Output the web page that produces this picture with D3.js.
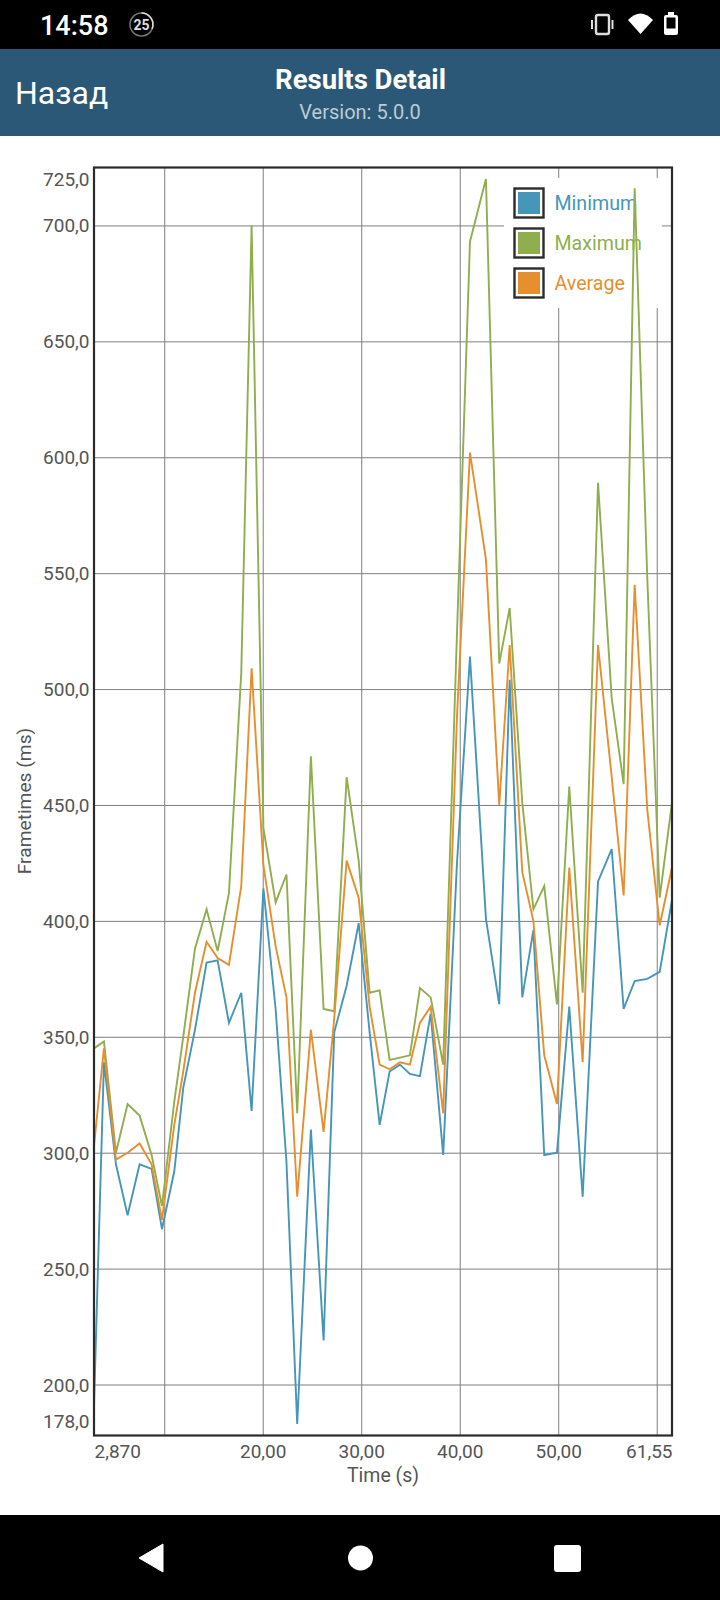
<!DOCTYPE html>
<html>
<head>
<meta charset="utf-8">
<script src="https://d3js.org/d3.v7.min.js"></script>
<style>
  html, body { margin: 0; padding: 0; background: #fff; }
  svg { display: block; font-family: Roboto, sans-serif; }
  .ax path { display: none; }
  .grid line { stroke: #7f7f7f; stroke-width: 1; }
  .labels text { font-size: 19px; fill: #555; font-family: Roboto, sans-serif; }
  .labels line { display: none; }
</style>
</head>
<body>
<svg id="chart" width="720" height="1600"></svg>
<script>
// values
var times = [2.87, 3.88, 5.10, 6.28, 7.50, 8.72, 9.77, 11.02, 11.93, 13.12,
  14.30, 15.42, 16.57, 17.82, 18.87, 20.07, 21.31, 22.41, 23.50, 24.89,
  26.18, 27.26, 28.52, 29.74, 30.85, 31.87, 32.88, 33.93, 34.94, 35.96,
  37.05, 38.32, 39.72, 41.04, 42.66, 44.01, 45.07, 46.35, 47.48, 48.58,
  49.87, 51.12, 52.48, 54.04, 55.43, 56.64, 57.76, 59.04, 60.30, 61.55];
var minimum = [191, 339, 295, 273, 295, 293, 267, 292, 328, 353,
  382, 383, 356, 369, 318, 414, 362, 296, 183, 310,
  219, 352, 372, 399, 352, 312, 335, 338, 334, 333,
  360, 299, 425, 514, 401, 364, 504, 367, 396, 299,
  300, 363, 281, 417, 431, 362, 374, 375, 378, 409];
var maximum = [345, 348, 300, 321, 316, 299, 277, 322, 350, 388,
  405, 387, 412, 507, 700, 440, 408, 420, 317, 471,
  362, 361, 462, 426, 369, 370, 340, 341, 342, 371,
  367, 338, 524, 693, 720, 511, 535, 451, 405, 415,
  364, 458, 369, 589, 496, 459, 716, 548, 410, 451];
var average = [303, 345, 297, 300, 304, 295, 271, 312, 335, 369,
  391, 384, 381, 415, 509, 424, 389, 367, 281, 353,
  309, 358, 426, 410, 363, 338, 336, 339, 338, 356,
  363, 317, 488, 602, 556, 450, 519, 421, 400, 342,
  321, 423, 339, 519, 462, 411, 545, 448, 398, 423];

var seriesNames = ["Minimum", "Maximum", "Average"];
var seriesColors = ["#4596b9", "#8fae4e", "#e58f2e"];
var seriesValues = [minimum, maximum, average];

var yTicks = [178, 200, 250, 300, 350, 400, 450, 500, 550, 600, 650, 700, 725];
var yGrid = [200, 250, 300, 350, 400, 450, 500, 550, 600, 650, 700];
var xTicks = [2.87, 20, 30, 40, 50, 61.55];
var xGrid = [10, 20, 30, 40, 50, 60];

var svg = d3.select("#chart");

// app chrome
svg.append("rect").attr("width", 720).attr("height", 49).attr("fill", "#000");
svg.append("rect").attr("y", 49).attr("width", 720).attr("height", 87).attr("fill", "#2b5876");
svg.append("rect").attr("y", 1515).attr("width", 720).attr("height", 85).attr("fill", "#000");

svg.append("text").attr("x", 40).attr("y", 35).attr("fill", "#fff")
  .attr("font-size", 27).attr("font-weight", 500).text("14:58");
svg.append("circle").attr("cx", 141.5).attr("cy", 24.5).attr("r", 11.5)
  .attr("fill", "none").attr("stroke", "#777").attr("stroke-width", 1.5);
svg.append("path").attr("d", "M141.5 13 A11.5 11.5 0 0 1 152 29")
  .attr("fill", "none").attr("stroke", "#ddd").attr("stroke-width", 1.5);
svg.append("text").attr("x", 141.5).attr("y", 30).attr("text-anchor", "middle")
  .attr("fill", "#ddd").attr("font-size", 14).attr("font-weight", 700).text("25");

// status icons
svg.append("rect").attr("x", 596).attr("y", 15).attr("width", 13).attr("height", 19).attr("rx", 2)
  .attr("fill", "none").attr("stroke", "#ddd").attr("stroke-width", 2.4);
svg.append("path").attr("d", "M592 20V29M612.5 20V29").attr("stroke", "#ddd").attr("stroke-width", 2);
svg.append("path").attr("d", "M628 20 Q640.500 7 653 20 L640.500 34 Z").attr("fill", "#fff");
svg.append("rect").attr("x", 664).attr("y", 15).attr("width", 14).attr("height", 20).attr("rx", 2).attr("fill", "#fff");
svg.append("rect").attr("x", 668).attr("y", 12).attr("width", 6).attr("height", 4).attr("fill", "#fff");
svg.append("rect").attr("x", 666.500).attr("y", 17.500).attr("width", 9).attr("height", 11).attr("fill", "#000");

svg.append("text").attr("x", 15).attr("y", 104).attr("fill", "#fff")
  .attr("font-size", 32).text("Назад");
svg.append("text").attr("x", 360.500).attr("y", 89).attr("text-anchor", "middle").attr("fill", "#fff")
  .attr("font-size", 27.5).attr("font-weight", 700).text("Results Detail");
svg.append("text").attr("x", 360).attr("y", 119).attr("text-anchor", "middle").attr("fill", "#bccbd6")
  .attr("font-size", 20).text("Version: 5.0.0");

// nav bar
svg.append("path").attr("d", "M163 1544 V1572 L139 1558 Z").attr("fill", "#fff")
  .attr("stroke", "#fff").attr("stroke-width", 1).attr("stroke-linejoin", "round");
svg.append("circle").attr("cx", 360.500).attr("cy", 1558).attr("r", 12.500).attr("fill", "#fff");
svg.append("rect").attr("x", 554).attr("y", 1545).attr("width", 27).attr("height", 27).attr("rx", 3).attr("fill", "#fff");

// chart
var plotL = 94, plotR = 672, plotT = 167.5, plotB = 1435.5;
var x = d3.scaleLinear().domain([2.87, 61.55]).range([plotL, plotR]);
var y = d3.scaleLinear().domain([178, 725]).range([plotB, plotT]);

function fmtY(d) { return d3.format(".1f")(d).replace(".", ","); }
function fmtX(d) {
  return (d === 2.87 ? d3.format(".3f")(d) : d3.format(".2f")(d)).replace(".", ",");
}

svg.append("g").attr("class", "ax grid")
  .attr("transform", "translate(" + plotL + ",0)")
  .call(d3.axisLeft(y).tickValues(yGrid).tickSize(-(plotR - plotL)).tickFormat(""));
svg.append("g").attr("class", "ax grid")
  .attr("transform", "translate(0," + plotB + ")")
  .call(d3.axisBottom(x).tickValues(xGrid).tickSize(-(plotB - plotT)).tickFormat(""));

var yLab = svg.append("g").attr("class", "ax labels")
  .attr("transform", "translate(" + plotL + ",0)")
  .call(d3.axisLeft(y).tickValues(yTicks).tickSize(0).tickPadding(4.5).tickFormat(fmtY));
yLab.selectAll("text")
  .attr("dy", function(d) { return d === 178 ? "-8.5px" : d === 725 ? "17.5px" : "6.5px"; });

var xLab = svg.append("g").attr("class", "ax labels")
  .attr("transform", "translate(0," + plotB + ")")
  .call(d3.axisBottom(x).tickValues(xTicks).tickSize(0).tickPadding(0).tickFormat(fmtX));
xLab.selectAll("text").attr("y", 0).attr("dy", "22px")
  .attr("text-anchor", function(d) { return d === 2.87 ? "start" : d === 61.55 ? "end" : "middle"; });

svg.append("text").attr("x", 383).attr("y", 1482).attr("text-anchor", "middle")
  .attr("font-size", 19.5).attr("fill", "#555").text("Time (s)");
svg.append("text").attr("transform", "translate(31,801) rotate(-90)").attr("text-anchor", "middle")
  .attr("font-size", 19.2).attr("fill", "#555").text("Frametimes (ms)");

// legend box hides the grid behind it
svg.append("rect").attr("x", 504).attr("y", 178).attr("width", 158).attr("height", 130).attr("fill", "#fff");
seriesNames.forEach(function(name, i) {
  var ly = 187.3 + i * 40;
  svg.append("rect").attr("x", 514.5).attr("y", ly + 1.2).attr("width", 29).attr("height", 29)
    .attr("fill", "#fff").attr("stroke", "#2b2b2b").attr("stroke-width", 2.4);
  svg.append("rect").attr("x", 518).attr("y", ly + 4.7).attr("width", 22).attr("height", 22)
    .attr("fill", seriesColors[i]);
  svg.append("text").attr("x", 554.5).attr("y", ly + 22.5).attr("font-size", 19.6)
    .attr("fill", seriesColors[i]).text(name);
});

// series
var line = d3.line()
  .x(function(d, i) { return x(times[i]); })
  .y(function(d) { return y(d); });
seriesValues.forEach(function(vals, i) {
  svg.append("path").datum(vals).attr("d", line)
    .attr("fill", "none").attr("stroke", seriesColors[i]).attr("stroke-width", 1.9);
});

// frame
svg.append("rect").attr("x", plotL).attr("y", plotT).attr("width", plotR - plotL).attr("height", plotB - plotT)
  .attr("fill", "none").attr("stroke", "#2b2b2b").attr("stroke-width", 2.2);
</script>
</body>
</html>
